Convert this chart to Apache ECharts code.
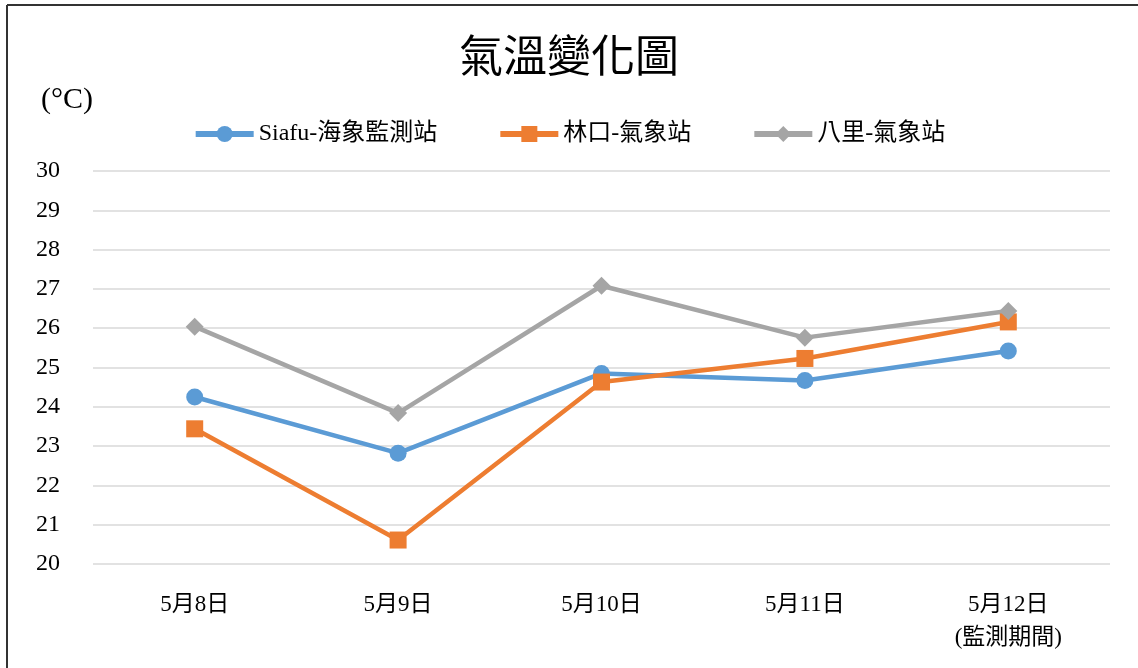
<!DOCTYPE html>
<html>
<head>
<meta charset="utf-8">
<script src="https://cdn.jsdelivr.net/npm/echarts@6/dist/echarts.min.js"></script>
<style>
html,body{margin:0;padding:0;background:#fff;}
#chart{width:1138px;height:668px;}
</style>
</head>
<body>
<div id="chart"></div>
<script>
const categories = ['5月8日', '5月9日', '5月10日', '5月11日', '5月12日\n(監測期間)'];
const seriesNames = ['Siafu-海象監測站', '林口-氣象站', '八里-氣象站'];
const siafu = [24.25, 22.82, 24.85, 24.67, 25.42];
const linkou = [23.44, 20.61, 24.63, 25.23, 26.16];
const bali = [26.04, 23.84, 27.08, 25.76, 26.44];
const yTicks = [20, 21, 22, 23, 24, 25, 26, 27, 28, 29, 30];

const cjk = '"Noto Sans CJK TC", "Liberation Serif", serif';
const serif = '"Liberation Serif", "Noto Sans CJK TC", serif';

const chart = echarts.init(document.getElementById('chart'));
chart.setOption({
  animation: false,
  backgroundColor: '#fff',
  title: [
    { text: '氣溫變化圖', left: 'center', top: 28,
      textStyle: { fontFamily: cjk, fontSize: 44, fontWeight: 'normal', color: '#000' } },
    { text: '(°C)', left: 36, top: 80,
      textStyle: { fontFamily: serif, fontSize: 30, fontWeight: 'normal', color: '#000' } }
  ],
  legend: {
    top: 117, left: 'center',
    itemWidth: 58, itemHeight: 20, itemGap: 60,
    lineStyle: { width: 6 },
    textStyle: { fontFamily: serif, fontSize: 24, color: '#000' },
    data: seriesNames
  },
  grid: { left: 93, right: 28, top: 171, bottom: 104 },
  xAxis: {
    type: 'category', data: categories, boundaryGap: true,
    axisLine: { show: false }, axisTick: { show: false },
    axisLabel: { margin: 24, fontFamily: serif, fontSize: 23, color: '#000', lineHeight: 33 }
  },
  yAxis: {
    type: 'value', min: yTicks[0], max: yTicks[yTicks.length - 1], interval: 1,
    axisLine: { show: false }, axisTick: { show: false },
    axisLabel: { margin: 33, fontFamily: serif, fontSize: 24, color: '#000' },
    splitLine: { lineStyle: { color: '#D9D9D9', width: 1.5 } }
  },
  series: [
    { name: seriesNames[0], type: 'line', data: siafu, symbol: 'circle', symbolSize: 17,
      lineStyle: { color: '#5B9BD5', width: 4.5 }, itemStyle: { color: '#5B9BD5' } },
    { name: seriesNames[1], type: 'line', data: linkou, symbol: 'rect', symbolSize: 17,
      lineStyle: { color: '#ED7D31', width: 4.5 }, itemStyle: { color: '#ED7D31' } },
    { name: seriesNames[2], type: 'line', data: bali, symbol: 'diamond', symbolSize: 18,
      lineStyle: { color: '#A5A5A5', width: 4.5 }, itemStyle: { color: '#A5A5A5' } }
  ],
  graphic: [
    { type: 'line', shape: { x1: 7, y1: 5, x2: 1138, y2: 5 }, style: { stroke: '#333', lineWidth: 2 } },
    { type: 'line', shape: { x1: 7, y1: 5, x2: 7, y2: 668 }, style: { stroke: '#333', lineWidth: 2 } }
  ]
});
</script>
</body>
</html>
